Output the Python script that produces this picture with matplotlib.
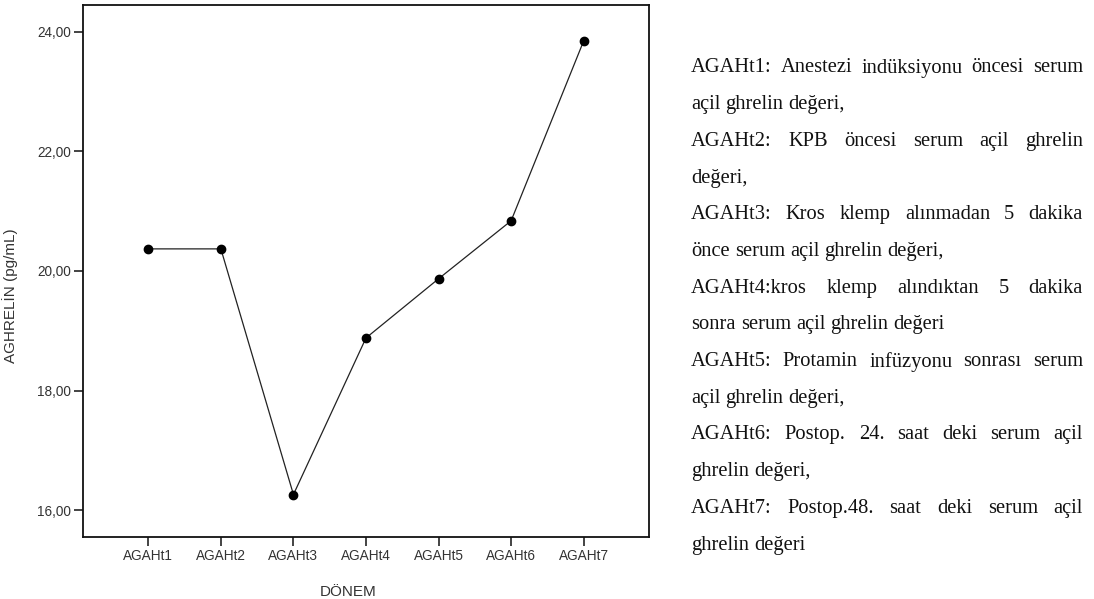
import numpy as np
import matplotlib
matplotlib.use("Agg")
import matplotlib.pyplot as plt
from matplotlib.ticker import FuncFormatter

# Mean acyl ghrelin per sampling period
periods = ["AGAHt1", "AGAHt2", "AGAHt3", "AGAHt4", "AGAHt5", "AGAHt6", "AGAHt7"]
ghrelin = [20.37, 20.37, 16.26, 18.88, 19.87, 20.84, 23.85]
y_ticks = [16, 18, 20, 22, 24]

# Explanatory notes to the right of the chart, one list of lines per period
notes = [
    ["AGAHt1: Anestezi indüksiyonu öncesi serum", "açil ghrelin değeri,"],
    ["AGAHt2: KPB öncesi serum açil ghrelin", "değeri,"],
    ["AGAHt3: Kros klemp alınmadan 5 dakika", "önce serum açil ghrelin değeri,"],
    ["AGAHt4:kros klemp alındıktan 5 dakika", "sonra serum açil ghrelin değeri"],
    ["AGAHt5: Protamin infüzyonu sonrası serum", "açil ghrelin değeri,"],
    ["AGAHt6: Postop. 24. saat deki serum açil", "ghrelin değeri,"],
    ["AGAHt7: Postop.48. saat deki serum açil", "ghrelin değeri"],
]

W, H = 1094, 599
fig = plt.figure(figsize=(W / 100, H / 100), dpi=100)
ax = fig.add_axes([83 / W, 1 - 537 / H, (649 - 83) / W, (537 - 5) / H])

x = np.arange(len(periods))
ax.plot(x, ghrelin, color="#222222", lw=0.9, marker="o", ms=6,
        mfc="black", mec="black", zorder=3)

ax.set_xlim(-0.9, len(periods) - 0.1)
ax.set_ylim(15.55, 24.45)
ax.set_xticks(x)
ax.set_xticklabels(periods)
ax.set_yticks(y_ticks)
ax.yaxis.set_major_formatter(FuncFormatter(lambda v, p: f"{v:.2f}".replace(".", ",")))

for s in ax.spines.values():
    s.set_linewidth(1.3)
    s.set_color("#111111")
ax.tick_params(direction="out", length=6.5, width=1.1, color="#111111",
               labelsize=9.8, labelcolor="#333333", pad=2)
for lbl in ax.get_xticklabels() + ax.get_yticklabels():
    lbl.set_family("Liberation Sans")

ax.set_xlabel("DÖNEM", family="Liberation Sans", fontsize=11, color="#333333")
ax.xaxis.set_label_coords((348 - 83) / (649 - 83), -0.09)
ax.set_ylabel("AGHRELİN (pg/mL)", family="Liberation Sans", fontsize=11, color="#333333")
ax.yaxis.set_label_coords((18 - 83) / (649 - 83), (537 - 296) / (537 - 5))

# Justified note block, drawn word by word
renderer = fig.canvas.get_renderer()
left_px, right_px = 691, 1083
line_h = 36.7
y_px = 68
font = dict(family="Liberation Serif", fontsize=14.8, color="#111111", va="center")


def word_width(w):
    t = fig.text(0, 0, w, **font)
    bb = t.get_window_extent(renderer)
    t.remove()
    return bb.width


space_w = word_width("a b") - word_width("ab")
for lines in notes:
    for i, ln in enumerate(lines):
        words = ln.split()
        widths = [word_width(w) for w in words]
        last = i == len(lines) - 1
        if last or len(words) == 1:
            gap = space_w
        else:
            gap = max(space_w * 0.6, (right_px - left_px - sum(widths)) / (len(words) - 1))
        xp = left_px
        for w, wd in zip(words, widths):
            fig.text(xp / W, 1 - y_px / H, w, **font)
            xp += wd + gap
        y_px += line_h

fig.savefig("out.png", dpi=100)
